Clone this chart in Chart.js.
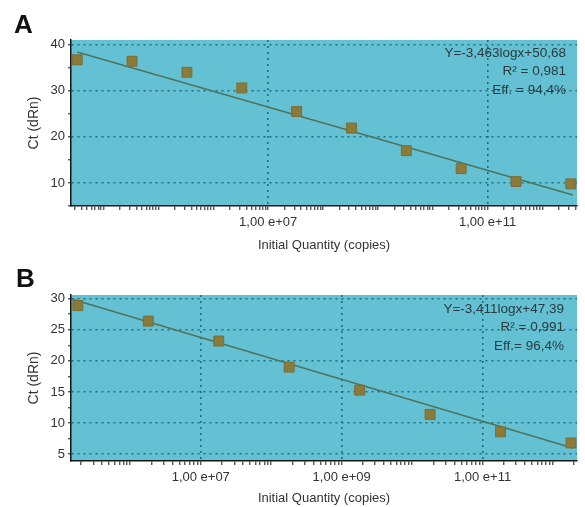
<!DOCTYPE html>
<html><head><meta charset="utf-8">
<script src="https://cdn.jsdelivr.net/npm/chart.js@4.4.0/dist/chart.umd.min.js"></script>
<style>
html,body{margin:0;padding:0;background:#fff;width:585px;height:507px;overflow:hidden;}
.panel{position:absolute;left:0;width:585px;}
.panel canvas{display:block;}
.lbl{position:absolute;font:bold 26px "Liberation Sans",Arial,sans-serif;color:#111;line-height:26px;}
</style></head><body>
<div class="panel" style="top:0;height:253px"><canvas id="cA" width="585" height="253"></canvas></div>
<div class="panel" style="top:253px;height:254px"><canvas id="cB" width="585" height="254"></canvas></div>
<div class="lbl" style="left:14px;top:11px">A</div>
<div class="lbl" style="left:16px;top:265px">B</div>
<script>
// ---- Panel A data ----
const qtyA = [3.3e3, 3.3e4, 3.3e5, 3.3e6, 3.3e7, 3.3e8, 3.3e9, 3.3e10, 3.3e11, 3.3e12];
const ctA  = [36.7, 36.4, 34.0, 30.6, 25.5, 21.9, 17.0, 13.1, 10.3, 9.8];
const fitQtyA = [3.3e3, 3.6e12];
const fitCtA  = [38.4, 7.4];
const xTickExpA = [7, 11];
const xTickLabelsA = ['1,00 e+07', '1,00 e+11'];
const yTickLabelsA = [10, 20, 30, 40];
const annA = ['Y=-3,463logx+50,68', 'R\u00B2 = 0,981', 'Eff. = 94,4%'];

// ---- Panel B data ----
const qtyB = [1.8e5, 1.8e6, 1.8e7, 1.8e8, 1.8e9, 1.8e10, 1.8e11, 1.8e12];
const ctB  = [28.9, 26.4, 23.2, 19.0, 15.3, 11.4, 8.6, 6.8];
const fitQtyB = [1.5e5, 1.9e12];
const fitCtB  = [29.9, 6.0];
const xTickExpB = [7, 9, 11];
const xTickLabelsB = ['1,00 e+07', '1,00 e+09', '1,00 e+11'];
const yTickLabelsB = [5, 10, 15, 20, 25, 30];
const annB = ['Y=-3,411logx+47,39', 'R\u00B2 = 0,991', 'Eff.= 96,4%'];

const PLOT_BG = '#63c1d3';
const GRID = '#1f6f80';
const AXIS = '#151515';
const TXT = '#333';
const FONT = '"Liberation Sans", Arial, sans-serif';

const bgPlugin = {
  id: 'plotbg',
  beforeDraw(chart, args, opts) {
    const {ctx, chartArea: a} = chart;
    ctx.save();
    ctx.fillStyle = opts.color;
    ctx.fillRect(a.left, a.top, a.right - a.left, a.bottom - a.top);
    ctx.restore();
  }
};
const annPlugin = {
  id: 'ann',
  afterDatasetsDraw(chart, args, opts) {
    const {ctx, chartArea: a} = chart;
    ctx.save();
    ctx.font = opts.font;
    ctx.fillStyle = opts.color;
    ctx.textAlign = 'right';
    ctx.textBaseline = 'middle';
    opts.lines.forEach((t, i) => ctx.fillText(t, a.right - opts.dx, a.top + opts.dy + i * opts.gap));
    ctx.restore();
  }
};

function expOf(v) {
  const l = Math.log10(v);
  const e = Math.round(l);
  return Math.abs(l - e) < 1e-6 ? e : null;
}
function isClean(v) {
  const p = Math.pow(10, Math.floor(Math.log10(v) + 1e-9));
  const s = v / p;
  return Math.abs(s - Math.round(s)) < 1e-6;
}

function make(id, cfg) {
  const pts = cfg.qty.map((q, i) => ({x: q, y: cfg.ct[i]}));
  const fit = cfg.fitQty.map((q, i) => ({x: q, y: cfg.fitCt[i]}));
  return new Chart(document.getElementById(id), {
    type: 'scatter',
    data: {
      datasets: [
        {data: pts, pointStyle: 'rect', pointRadius: 7, backgroundColor: '#8b7b3b', borderColor: '#7c6c32', borderWidth: 1, showLine: false},
        {data: fit, showLine: true, pointRadius: 0, borderColor: '#4f735c', borderWidth: 1.6, fill: false}
      ]
    },
    options: {
      responsive: false,
      animation: false,
      events: [],
      layout: {padding: {top: cfg.padTop, right: 2, left: 0, bottom: 0}},
      plugins: {
        legend: {display: false},
        tooltip: {enabled: false},
        plotbg: {color: PLOT_BG},
        ann: {lines: cfg.ann, dx: cfg.annDx, dy: cfg.annDy, gap: 18.5, font: '13.5px ' + FONT, color: '#2b3a40'}
      },
      scales: {
        x: {
          type: 'logarithmic',
          min: cfg.xmin, max: cfg.xmax,
          afterFit: s => { s.height = cfg.xH; },
          ticks: {
            autoSkip: false, maxRotation: 0, minRotation: 0, padding: 5,
            font: {family: FONT, size: 13}, color: TXT,
            callback: (v) => { const e = expOf(v); const k = cfg.xExp.indexOf(e); return k >= 0 ? cfg.xLabels[k] : ''; }
          },
          grid: {
            lineWidth: 1.6,
            color: c => (c.tick && cfg.xExp.includes(expOf(c.tick.value))) ? GRID : 'transparent',
            tickColor: c => (c.tick && isClean(c.tick.value)) ? AXIS : 'transparent',
            tickLength: 4, tickWidth: 1
          },
          border: {display: true, color: AXIS, width: 1.5, dash: [2, 4]},
          title: {display: true, text: 'Initial Quantity (copies)', color: TXT, font: {family: FONT, size: 13, lineHeight: 1.2}, padding: {top: 0, bottom: cfg.xTitlePad}}
        },
        y: {
          min: cfg.ymin, max: cfg.ymax,
          afterFit: s => { s.width = 71; },
          ticks: {
            stepSize: cfg.ystep, autoSkip: false, padding: 3, includeBounds: false,
            font: {family: FONT, size: 13}, color: TXT,
            callback: v => cfg.yLabels.includes(v) ? String(v) : ''
          },
          grid: {
            lineWidth: 1.6,
            color: c => (c.tick && cfg.yLabels.includes(c.tick.value) && c.tick.value !== cfg.ymin) ? GRID : 'transparent',
            tickColor: c => (c.tick && Math.abs(c.tick.value / cfg.ystep - Math.round(c.tick.value / cfg.ystep)) < 1e-6) ? AXIS : 'transparent',
            tickLength: 3, tickWidth: 1
          },
          border: {display: true, color: AXIS, width: 1.5, dash: [2, 4]},
          title: {display: true, text: 'Ct (dRn)', color: TXT, font: {family: FONT, size: 14, lineHeight: 1.2}, padding: {top: 26, bottom: 0}}
        }
      }
    },
    plugins: [bgPlugin, annPlugin]
  });
}

make('cA', {
  qty: qtyA, ct: ctA, fitQty: fitQtyA, fitCt: fitCtA,
  xExp: xTickExpA, xLabels: xTickLabelsA, yLabels: yTickLabelsA, ann: annA,
  xmin: 2.54e3, xmax: 4.27e12, ymin: 5, ymax: 41, ystep: 5,
  padTop: 40, xH: 47, xTitlePad: 0, annDx: 11, annDy: 13
});
make('cB', {
  qty: qtyB, ct: ctB, fitQty: fitQtyB, fitCt: fitCtB,
  xExp: xTickExpB, xLabels: xTickLabelsB, yLabels: yTickLabelsB, ann: annB,
  xmin: 1.44e5, xmax: 2.19e12, ymin: 3.9, ymax: 30.6, ystep: 2.5,
  padTop: 42, xH: 46, xTitlePad: 1, annDx: 13, annDy: 14
});
</script>
</body></html>
